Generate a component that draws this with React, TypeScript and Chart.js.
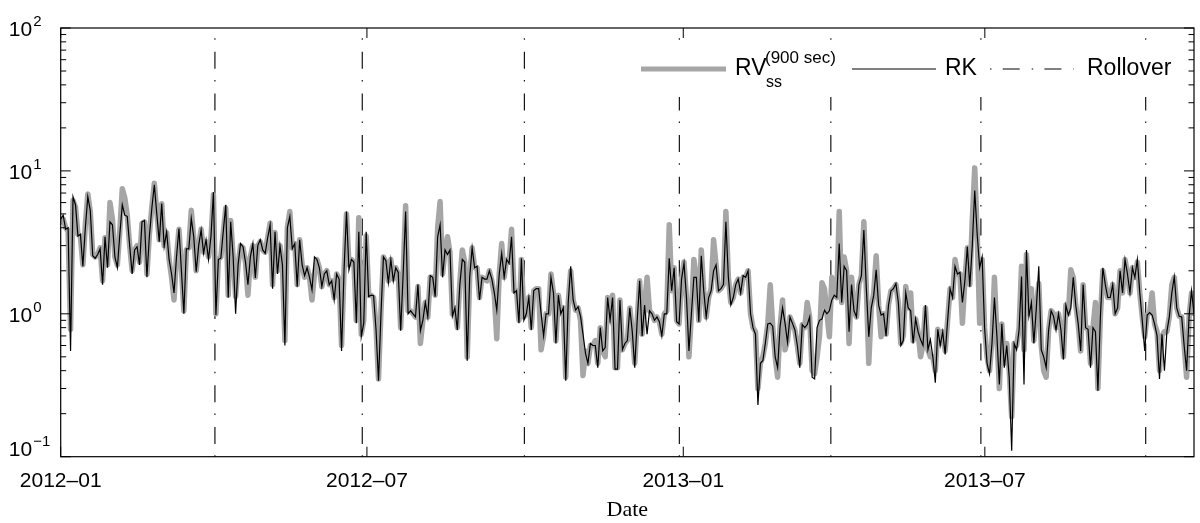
import React, { useEffect, useRef } from "react";
import { Chart, registerables } from "chart.js";

Chart.register(...registerables);

// Trading-day index values (index 0 = first trading day of 2012)
const RK = [
  4.6, 4.9, 3.9, 4.0, 0.55, 6.6, 5.8, 3.5, 3.6, 2.15,
  4.0, 6.6, 5.3, 2.55, 2.45, 2.6, 2.85, 1.6, 3.46, 2.1,
  4.4, 4.2, 2.5, 2.1, 3.6, 5.8, 4.9, 4.8, 3.0, 1.9,
  2.8, 2.95, 2.2, 4.4, 4.5, 1.8, 3.5, 5.5, 8.0, 5.0,
  3.2, 5.9, 2.95, 3.75, 2.4, 1.9, 1.4, 2.5, 3.95, 2.0,
  1.0, 2.85, 2.85, 4.65, 3.46, 1.97, 3.0, 3.86, 2.65, 3.3,
  2.4, 3.5, 7.1, 0.98, 2.4, 2.45, 3.8, 5.8, 1.3, 4.4,
  2.5, 1.0, 2.2, 3.1, 2.95, 2.3, 1.6, 2.5, 3.1, 1.78,
  3.0, 3.3, 2.8, 2.65, 3.4, 4.2, 1.5, 3.75, 1.9, 3.0,
  2.2, 0.6, 4.0, 4.8, 2.85, 3.1, 1.55, 3.3, 2.2, 1.85,
  2.1, 1.8, 1.47, 2.5, 2.4, 2.1, 1.55, 1.9, 2.0, 1.6,
  1.7, 1.25, 1.9, 1.75, 0.55, 2.0, 5.2, 2.03, 2.4, 2.3,
  0.86, 3.75, 0.69, 0.86, 3.75, 1.32, 1.35, 1.34, 0.77, 0.34,
  1.0, 2.5, 2.35, 1.65, 2.4, 1.7, 2.1, 1.95, 0.76, 1.9,
  5.2, 1.0, 1.05, 1.0, 0.95, 1.6, 0.76, 0.9, 1.2, 0.95,
  1.85, 1.8, 1.32, 3.46, 4.2, 1.8, 2.8, 2.6, 2.8, 0.96,
  1.1, 0.77, 1.6, 2.4, 2.3, 0.47, 1.8, 2.9, 2.1, 2.15,
  1.25, 1.8, 1.75, 1.75, 2.0, 1.75, 1.4, 1.06, 1.9, 2.65,
  1.8, 2.4, 2.25, 3.46, 1.4, 1.45, 0.86, 2.45, 0.9, 1.0,
  1.3, 0.77, 1.45, 1.5, 1.5, 1.0, 0.7, 1.0, 1.0, 1.8,
  1.4, 0.62, 1.35, 1.0, 1.1, 0.34, 1.2, 2.15, 1.25, 1.06,
  1.12, 0.96, 0.72, 0.53, 0.45, 0.62, 0.6, 0.6, 0.42, 0.8,
  0.55, 0.58, 1.3, 0.9, 1.3, 0.41, 0.41, 1.25, 0.56, 0.62,
  0.65, 1.1, 0.75, 0.42, 0.9, 1.7, 0.7, 1.15, 0.72, 1.05,
  1.0, 0.9, 0.95, 0.88, 0.7, 1.0, 1.0, 2.45, 1.45, 2.1,
  0.88, 0.85, 1.75, 2.26, 1.3, 0.55, 1.0, 1.8, 1.8, 0.88,
  2.55, 1.45, 0.95, 1.3, 1.45, 2.0, 2.2, 1.45, 1.5, 1.6,
  4.4, 1.8, 1.15, 1.3, 1.6, 1.75, 1.4, 1.85, 1.8, 2.0,
  1.0, 0.8, 0.72, 0.23, 0.45, 0.47, 0.62, 0.85, 0.86, 0.82,
  0.5, 0.42, 0.82, 1.1, 0.86, 0.63, 0.95, 0.86, 0.77, 0.6,
  0.42, 0.84, 0.8, 0.84, 0.95, 0.36, 0.35, 0.8, 0.9, 0.92,
  1.06, 1.0, 1.05, 1.25, 1.35, 1.3, 3.1, 1.2, 2.15, 2.0,
  0.75, 1.6, 1.05, 0.95, 1.6, 1.85, 3.86, 1.5, 0.69, 1.1,
  1.35, 2.03, 1.15, 0.98, 1.0, 0.7, 1.15, 1.45, 1.5, 1.63,
  1.2, 0.6, 0.65, 1.4, 1.1, 1.05, 0.62, 0.92, 0.75, 0.66,
  0.6, 1.15, 0.56, 0.66, 0.5, 0.33, 0.78, 0.6, 0.75, 0.52,
  0.9, 1.5, 1.3, 2.15, 1.9, 1.95, 1.2, 1.7, 2.95, 1.55,
  3.0, 7.3, 3.6, 2.1, 2.5, 0.8, 0.45, 0.38, 0.62, 1.3,
  0.7, 0.32, 0.85, 0.42, 0.6, 0.36, 0.11, 0.62, 0.56, 0.77,
  1.82, 0.32, 2.8, 0.96, 1.2, 0.62, 1.1, 2.15, 0.56, 0.5,
  0.42, 0.77, 1.05, 0.96, 0.77, 1.0, 0.77, 0.48, 1.15, 0.98,
  1.1, 1.8, 1.15, 0.85, 0.55, 1.6, 0.8, 0.78, 0.42, 0.8,
  0.75, 0.29, 0.95, 2.1, 1.6, 1.3, 1.3, 1.6, 1.0, 1.1,
  2.0, 1.4, 2.4, 1.9, 1.4, 2.1, 1.8, 2.4, 1.4, 0.9,
  0.55, 0.98, 1.02, 0.98, 0.85, 0.7, 0.35, 0.72, 0.4, 0.75,
  0.96, 1.4, 1.82, 1.1, 0.96, 0.95, 0.6, 0.4, 0.96, 1.45,
  1.0,
];

const RV = [
  4.4, 4.6, 4.0, 3.8, 0.78, 6.2, 5.6, 3.6, 3.5, 2.2,
  4.2, 6.9, 5.2, 2.6, 2.5, 2.6, 2.9, 1.7, 3.4, 2.2,
  6.0, 4.6, 2.5, 2.2, 3.8, 7.5, 6.5, 4.9, 3.0, 2.0,
  2.8, 3.0, 2.3, 4.3, 4.4, 1.9, 3.6, 5.6, 8.2, 5.2,
  3.3, 5.9, 3.0, 3.7, 2.4, 1.8, 1.25, 2.5, 3.9, 2.1,
  1.05, 2.8, 2.9, 5.3, 3.4, 2.0, 3.0, 3.9, 2.7, 3.2,
  2.5, 3.4, 6.8, 1.0, 2.4, 2.5, 3.7, 5.5, 1.35, 4.5,
  2.5, 1.32, 2.2, 3.0, 2.9, 2.3, 1.35, 2.5, 3.0, 1.8,
  3.0, 3.2, 2.8, 2.7, 3.4, 4.3, 1.6, 3.7, 2.0, 3.0,
  2.2, 0.65, 4.0, 5.2, 2.9, 3.1, 1.6, 3.3, 2.2, 1.8,
  2.1, 1.8, 1.25, 1.9, 2.4, 2.1, 1.55, 1.9, 2.0, 1.6,
  1.7, 1.3, 1.9, 1.75, 0.6, 2.0, 5.0, 2.2, 2.4, 2.3,
  0.9, 4.7, 0.72, 0.9, 3.5, 1.35, 1.35, 1.3, 0.8, 0.35,
  1.05, 2.5, 2.3, 1.7, 2.4, 1.75, 2.1, 1.9, 0.8, 1.9,
  5.7, 1.05, 1.05, 1.0, 0.95, 1.55, 0.62, 0.9, 1.2, 0.95,
  1.8, 1.8, 1.35, 4.0, 6.1, 1.9, 2.8, 3.46, 2.7, 1.0,
  1.1, 0.8, 1.65, 2.8, 2.3, 0.5, 1.8, 2.9, 2.1, 2.1,
  1.3, 1.8, 1.75, 1.7, 2.0, 1.7, 1.35, 0.67, 1.9, 3.1,
  1.8, 2.4, 2.3, 3.9, 1.45, 1.45, 0.9, 2.4, 0.95, 1.0,
  1.3, 0.8, 1.45, 1.5, 1.5, 0.56, 0.7, 1.0, 1.0, 1.9,
  1.4, 0.65, 1.35, 1.0, 1.1, 0.36, 1.2, 2.0, 1.25, 1.06,
  1.1, 0.9, 0.37, 0.55, 0.45, 0.6, 0.6, 0.65, 0.45, 0.8,
  0.55, 0.5, 1.3, 0.9, 1.35, 0.42, 0.42, 1.25, 0.56, 0.62,
  0.65, 1.1, 0.75, 0.45, 0.9, 1.7, 0.72, 1.15, 1.8, 1.05,
  1.0, 0.9, 0.95, 0.88, 0.72, 1.0, 1.05, 4.2, 1.45, 2.1,
  0.9, 0.85, 1.75, 2.3, 1.3, 0.5, 1.0, 2.4, 1.8, 0.9,
  2.8, 1.45, 0.95, 1.3, 1.5, 3.3, 2.2, 1.45, 1.5, 1.6,
  5.2, 1.8, 1.2, 1.3, 1.6, 1.75, 1.4, 1.8, 1.8, 2.0,
  1.0, 0.8, 0.75, 0.3, 0.45, 0.5, 0.62, 0.85, 1.6, 0.82,
  0.5, 0.36, 0.82, 1.25, 0.56, 0.65, 0.95, 0.86, 0.77, 0.6,
  0.45, 0.84, 0.8, 1.2, 0.95, 0.4, 0.38, 0.5, 0.7, 1.65,
  1.5, 1.0, 0.69, 1.8, 1.35, 1.3, 5.2, 1.2, 2.5, 2.0,
  0.62, 1.8, 1.05, 0.95, 1.6, 1.85, 4.4, 1.5, 0.45, 1.1,
  1.4, 2.55, 1.15, 0.69, 1.0, 0.72, 1.15, 1.45, 1.5, 1.6,
  1.2, 0.62, 0.7, 1.55, 1.1, 1.4, 0.65, 0.92, 0.75, 0.5,
  0.6, 1.1, 0.56, 0.5, 0.5, 0.4, 0.78, 0.62, 0.75, 0.55,
  0.9, 1.5, 1.3, 2.4, 1.9, 1.9, 0.86, 1.7, 2.9, 1.6,
  4.5, 10.5, 3.6, 0.86, 2.4, 0.8, 0.5, 0.4, 0.65, 1.8,
  0.7, 0.3, 0.85, 0.45, 0.62, 0.4, 0.19, 0.62, 0.6, 0.8,
  2.15, 0.56, 2.6, 1.0, 1.5, 0.65, 1.1, 1.63, 0.6, 0.4,
  0.36, 0.77, 1.05, 1.0, 0.8, 1.0, 0.77, 0.5, 1.15, 1.0,
  2.03, 1.8, 1.15, 0.85, 0.55, 1.6, 0.8, 0.8, 0.45, 0.8,
  1.2, 0.3, 0.95, 2.0, 1.6, 1.3, 1.3, 1.6, 1.0, 1.1,
  2.0, 1.4, 2.4, 1.9, 1.4, 2.1, 1.8, 2.3, 1.4, 0.95,
  0.69, 0.98, 1.02, 1.4, 0.85, 0.75, 0.4, 0.7, 0.75, 0.75,
  0.96, 1.6, 1.8, 1.1, 0.96, 0.95, 0.6, 0.36, 0.96, 1.4,
  1.0,
];

const ROLLOVER = [62.6, 122.4, 188.2, 251.1, 312.6, 373.5, 440.4];
const X_TICKS = [0, 124.3, 252.7, 375.1];
const X_TICK_LABELS = ["2012\u201301", "2012\u201307", "2013\u201301", "2013\u201307"];
const Y_DECADES = [-1, 0, 1, 2];
const Y_EXP_LABELS = ["\u22121", "0", "1", "2"];
const X_MAX = 460;
const X_TITLE = "Date";
const LEGEND_RV = "RV";
const LEGEND_RV_SUP = "(900 sec)";
const LEGEND_RV_SUB = "ss";
const LEGEND_RK = "RK";
const LEGEND_ROLL = "Rollover";

const GREY = "rgb(166,166,166)";
const SANS = '"Liberation Sans", Arial, Helvetica, sans-serif';
const SERIF = '"Liberation Serif", "DejaVu Serif", serif';
const DASH_DOT = [1.5, 11.2, 17, 12];

export default function App() {
  const ref = useRef<HTMLCanvasElement | null>(null);

  useEffect(() => {
    const canvas = ref.current;
    if (!canvas) return;

    const matlabPlugin = {
      id: "matlabAxes",
      beforeDatasetsDraw(chart: any) {
        const { ctx, chartArea: a, scales } = chart;
        const x = scales.x;
        ctx.save();
        ctx.strokeStyle = "#000";
        ctx.lineWidth = 1.1;
        ctx.setLineDash(DASH_DOT);
        for (const r of ROLLOVER) {
          const px = x.getPixelForValue(r);
          ctx.beginPath();
          ctx.moveTo(px, a.bottom);
          ctx.lineTo(px, a.top);
          ctx.stroke();
        }
        ctx.restore();
      },
      afterDatasetsDraw(chart: any) {
        const { ctx } = chart;
        const ly = 69;
        const tb = 75;
        ctx.save();
        ctx.fillStyle = "#fff";
        ctx.fillRect(632, 43, 556, 54);
        // RV sample
        ctx.strokeStyle = GREY;
        ctx.lineWidth = 5;
        ctx.beginPath();
        ctx.moveTo(641, ly);
        ctx.lineTo(726, ly);
        ctx.stroke();
        ctx.fillStyle = "#000";
        ctx.textAlign = "left";
        ctx.textBaseline = "alphabetic";
        ctx.font = `23px ${SANS}`;
        ctx.fillText(LEGEND_RV, 735, tb);
        ctx.font = `17px ${SANS}`;
        ctx.fillText(LEGEND_RV_SUP, 765, 62.5);
        ctx.font = `16px ${SANS}`;
        ctx.fillText(LEGEND_RV_SUB, 766, 86.5);
        // RK sample
        ctx.strokeStyle = "#000";
        ctx.lineWidth = 1.2;
        ctx.beginPath();
        ctx.moveTo(852, ly);
        ctx.lineTo(936, ly);
        ctx.stroke();
        ctx.font = `23px ${SANS}`;
        ctx.fillText(LEGEND_RK, 945, tb);
        // Rollover sample
        ctx.lineWidth = 1.1;
        ctx.setLineDash(DASH_DOT);
        ctx.beginPath();
        ctx.moveTo(990, ly);
        ctx.lineTo(1074, ly);
        ctx.stroke();
        ctx.setLineDash([]);
        ctx.fillText(LEGEND_ROLL, 1087, tb);
        ctx.restore();
      },
      afterDraw(chart: any) {
        const { ctx, chartArea: a, scales } = chart;
        const x = scales.x;
        const y = scales.y;
        ctx.save();
        ctx.strokeStyle = "#000";
        ctx.lineWidth = 1.2;
        ctx.setLineDash([]);
        ctx.strokeRect(a.left, a.top, a.right - a.left, a.bottom - a.top);

        ctx.lineWidth = 1;
        ctx.beginPath();
        // y ticks (major + log minor), both sides, inward
        for (let i = 0; i < Y_DECADES.length; i++) {
          const d = Y_DECADES[i];
          const v = Math.pow(10, d);
          const py = y.getPixelForValue(v);
          ctx.moveTo(a.left, py);
          ctx.lineTo(a.left + 10, py);
          ctx.moveTo(a.right, py);
          ctx.lineTo(a.right - 10, py);
          if (i < Y_DECADES.length - 1) {
            for (let m = 2; m <= 9; m++) {
              const pm = y.getPixelForValue(m * v);
              ctx.moveTo(a.left, pm);
              ctx.lineTo(a.left + 5.5, pm);
              ctx.moveTo(a.right, pm);
              ctx.lineTo(a.right - 5.5, pm);
            }
          }
        }
        // x ticks, bottom and top, inward
        for (const t of X_TICKS) {
          const px = x.getPixelForValue(t);
          ctx.moveTo(px, a.bottom);
          ctx.lineTo(px, a.bottom - 10);
          ctx.moveTo(px, a.top);
          ctx.lineTo(px, a.top + 10);
        }
        ctx.stroke();

        // x tick labels
        ctx.fillStyle = "#000";
        ctx.textAlign = "center";
        ctx.textBaseline = "alphabetic";
        ctx.font = `21px ${SANS}`;
        for (let i = 0; i < X_TICKS.length; i++) {
          ctx.fillText(X_TICK_LABELS[i], x.getPixelForValue(X_TICKS[i]), a.bottom + 30);
        }

        // y tick labels: base 10 with exponent
        for (let i = 0; i < Y_DECADES.length; i++) {
          const d = Y_DECADES[i];
          const py = y.getPixelForValue(Math.pow(10, d));
          const base = d === -1 ? a.bottom - 0.5 : py + 8;
          ctx.textAlign = "right";
          ctx.font = `21px ${SANS}`;
          ctx.fillText("10", a.left - 28.5, base);
          ctx.textAlign = "left";
          ctx.font = `15px ${SANS}`;
          ctx.fillText(Y_EXP_LABELS[i], a.left - 27.5, base - 10);
        }

        // x title
        ctx.textAlign = "center";
        ctx.font = `22px ${SERIF}`;
        ctx.fillText(X_TITLE, (a.left + a.right) / 2, 516);
        ctx.restore();
      },
    };

    const chart = new Chart(canvas, {
      type: "line",
      data: {
        datasets: [
          {
            label: "RK",
            data: RK.map((v, i) => ({ x: i, y: v })),
            borderColor: "#000",
            borderWidth: 1.2,
            pointRadius: 0,
            tension: 0,
            order: 0,
            clip: 0,
            borderJoinStyle: "miter",
          },
          {
            label: "RV",
            data: RV.map((v, i) => ({ x: i, y: v })),
            borderColor: GREY,
            borderWidth: 5.5,
            pointRadius: 0,
            tension: 0,
            order: 1,
            clip: 0,
            borderJoinStyle: "round",
            borderCapStyle: "round",
          },
        ],
      } as any,
      options: {
        responsive: false,
        animation: false,
        devicePixelRatio: 1,
        events: [],
        layout: { padding: { left: 60.7, right: 6, top: 28, bottom: 66.3 } },
        plugins: { legend: { display: false }, tooltip: { enabled: false } },
        scales: {
          x: { type: "linear", min: 0, max: X_MAX, display: false },
          y: { type: "logarithmic", min: 0.1, max: 100, display: false },
        },
      } as any,
      plugins: [matlabPlugin],
    });

    return () => chart.destroy();
  }, []);

  return (
    <div style={{ position: "fixed", left: 0, top: 0, width: 1200, height: 523, background: "#fff" }}>
      <canvas ref={ref} width={1200} height={523} style={{ display: "block" }} />
    </div>
  );
}
